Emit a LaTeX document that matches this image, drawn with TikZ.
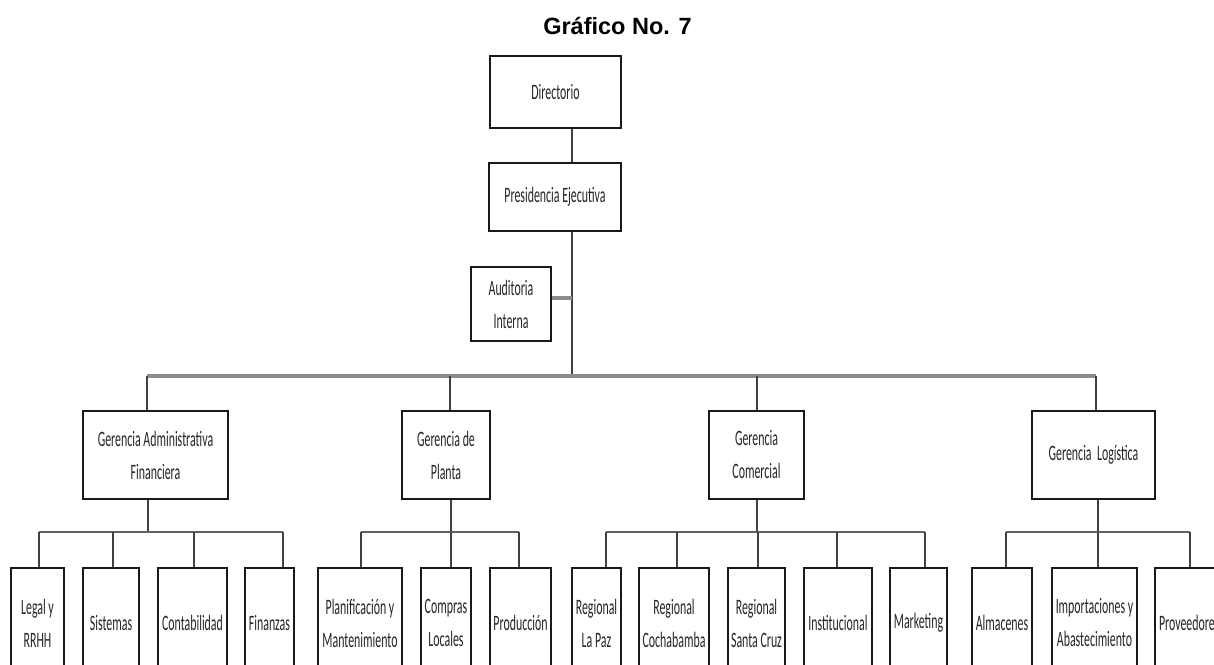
\documentclass[tikz,border=0pt]{standalone}
\usepackage{fontspec}
\newfontfamily\condfont[FakeStretch=0.54]{Carlito}
\newfontfamily\titlefont{Liberation Sans}
\begin{document}
\begin{tikzpicture}[x=1pt,y=-1pt,
  box/.style={draw=black!90, line width=1.6pt, fill=white, inner sep=0pt,
    align=center, font=\condfont\fontsize{22}{33}\selectfont, text=black!85},
  conn/.style={draw=black!75, line width=1.3pt},
  mainbar/.style={draw=black!45, line width=4pt},
  subbar/.style={draw=black!62, line width=2.6pt}]
\useasboundingbox (0,0) rectangle (1214,664);
\clip (0,0) rectangle (1214,664);

% title
\node[font=\titlefont\bfseries\fontsize{23.5}{27}\selectfont] (title) at (617.5,26) {Gráfico No. 7};

% box helper: left, right, top and bottom edges given in the picture's coordinates
\newcommand{\orgbox}[6][]{%
  \node[box, minimum width={#4-#3}, minimum height={#6-#5}, #1] (#2)
    at ({(#3+#4)/2},{(#5+#6)/2})}

% top levels
\orgbox{dir}{490}{621}{56}{128} {Directorio};
\orgbox{pres}{489}{621}{163}{231} {Presidencia Ejecutiva};
\orgbox{aud}{471}{551}{267}{341} {Auditoria\\Interna};

% managements
\orgbox{gaf}{83}{228}{411}{499} {Gerencia Administrativa\\Financiera};
\orgbox{gpl}{402}{490}{411}{499} {Gerencia de\\Planta};
\orgbox{gco}{709}{804}{411}{499} {Gerencia\\Comercial};
\orgbox{glo}{1032}{1155}{411}{499} {Gerencia~ Logística};

% departments
\orgbox{leg}{11}{64}{568}{678} {Legal y\\RRHH};
\orgbox{sis}{83}{139}{568}{678} {Sistemas};
\orgbox{con}{158}{227}{568}{678} {Contabilidad};
\orgbox{fin}{245}{294}{568}{678} {Finanzas};
\orgbox{pla}{318}{402}{568}{678} {Planificación y\\Mantenimiento};
\orgbox{com}{421}{471}{568}{678} {Compras\\Locales};
\orgbox{pro}{490}{551}{568}{678} {Producción};
\orgbox{rlp}{572}{621}{568}{678} {Regional\\La Paz};
\orgbox{rcb}{639}{709}{568}{678} {Regional\\Cochabamba};
\orgbox{rsc}{728}{785}{568}{678} {Regional\\Santa Cruz};
\orgbox{ins}{804}{872}{568}{678} {Institucional};
\orgbox{mkt}{890}{947}{568}{678} {Marketing};
\orgbox{alm}{972}{1032}{568}{678} {Almacenes};
\orgbox{imp}{1052}{1137}{568}{678} {Importaciones y\\Abastecimiento};
\orgbox[text width=70pt, align=left]{prv}{1155}{1229}{568}{678} {\hspace*{2pt}Proveedores};

% junction points on the bars
\coordinate (jtop) at (572,376);
\coordinate (jaud) at (572,298);
\coordinate (mL) at (147,376);
\coordinate (mP) at (450,376);
\coordinate (mC) at (757,376);
\coordinate (mR) at (1096,376);
\coordinate (sA) at (148,532);
\coordinate (sP) at (451,532);
\coordinate (sC) at (757,532);
\coordinate (sL) at (1098,532);
\coordinate (dleg) at (39,532);
\coordinate (dsis) at (113,532);
\coordinate (dcon) at (194,532);
\coordinate (dfin) at (283,532);
\coordinate (dpla) at (361,532);
\coordinate (dcom) at (451,532);
\coordinate (dpro) at (519,532);
\coordinate (drlp) at (606,532);
\coordinate (drcb) at (677,532);
\coordinate (drsc) at (758,532);
\coordinate (dins) at (837,532);
\coordinate (dmkt) at (925,532);
\coordinate (dalm) at (1006,532);
\coordinate (dimp) at (1098,532);
\coordinate (dprv) at (1190,532);

% main trunk
\draw[conn] (dir.south -| jtop) -- (pres.north -| jtop);
\draw[conn] (pres.south -| jtop) -- (jtop);
\draw[mainbar] (aud.east |- jaud) -- (jaud);
\draw[mainbar] (mL) -- (mR);

% drops to the managements
\foreach \j/\n in {mL/gaf, mP/gpl, mC/gco, mR/glo}
  \draw[conn] (\j) -- (\j |- \n.north);

% managements to their sub-bars
\foreach \s/\n in {sA/gaf, sP/gpl, sC/gco, sL/glo}
  \draw[conn] (\n.south -| \s) -- (\s);

\draw[subbar] (dleg) -- (dfin);
\draw[subbar] (dpla) -- (dpro);
\draw[subbar] (drlp) -- (dmkt);
\draw[subbar] (dalm) -- (dprv);

% drops to the departments
\foreach \d/\n in {dleg/leg, dsis/sis, dcon/con, dfin/fin, dpla/pla, dcom/com,
  dpro/pro, drlp/rlp, drcb/rcb, drsc/rsc, dins/ins, dmkt/mkt, dalm/alm,
  dimp/imp, dprv/prv}
  \draw[conn] (\d) -- (\d |- \n.north);
\end{tikzpicture}
\end{document}
